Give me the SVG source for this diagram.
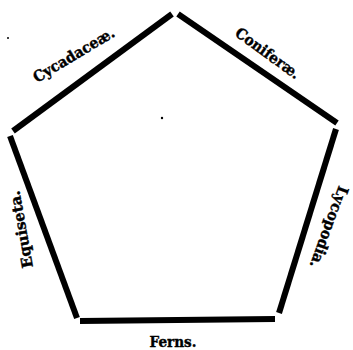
<svg xmlns="http://www.w3.org/2000/svg" width="353" height="350" viewBox="0 0 353 350">
<style>
.edge{stroke:#000;stroke-width:6;stroke-linecap:butt;fill:none}
.lbl{font-family:"DejaVu Serif","Liberation Serif",serif;font-weight:bold;font-size:15px;fill:#000;stroke:#000;stroke-width:0.4}
</style>
<rect width="353" height="350" fill="#fff"/>
<g id="connectors">
<line class="edge" x1="13" y1="131" x2="172" y2="14"/>
<line class="edge" x1="178" y1="14" x2="337" y2="123"/>
<line class="edge" x1="336" y1="129" x2="279" y2="313"/>
<line class="edge" x1="80" y1="321" x2="275" y2="319"/>
<line class="edge" x1="10" y1="136" x2="77" y2="318"/>
</g>
<g id="cycadaceae"><text class="lbl" transform="translate(37,83) rotate(-31)" textLength="92" lengthAdjust="spacingAndGlyphs">Cycadaceæ.</text></g>
<g id="coniferae"><text class="lbl" transform="translate(234,35) rotate(36)" textLength="76" lengthAdjust="spacingAndGlyphs">Coniferæ.</text></g>
<g id="lycopodia"><text class="lbl" transform="translate(339,185) rotate(110)" textLength="86" lengthAdjust="spacingAndGlyphs">Lycopodia.</text></g>
<g id="ferns"><text class="lbl" x="173" y="347" text-anchor="middle" textLength="47" lengthAdjust="spacingAndGlyphs">Ferns.</text></g>
<g id="equiseta"><text class="lbl" transform="translate(33,267) rotate(-100)" textLength="78" lengthAdjust="spacingAndGlyphs">Equiseta.</text></g>
<circle cx="162" cy="118" r="1.2" fill="#000"/>
<circle cx="8" cy="38" r="1" fill="#000"/>
</svg>
